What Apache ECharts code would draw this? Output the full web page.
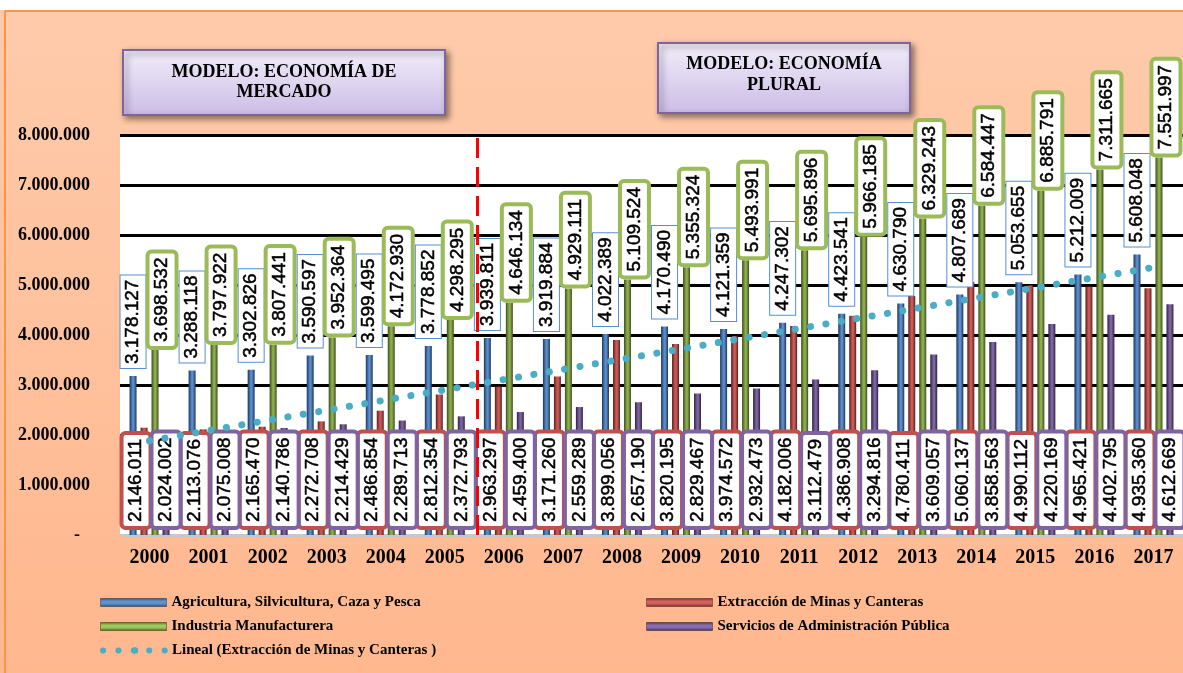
<!DOCTYPE html>
<html>
<head>
<meta charset="utf-8">
<script src="https://cdn.jsdelivr.net/npm/echarts@6/dist/echarts.min.js"></script>
<style>
html,body{margin:0;padding:0;background:#fff;}
#chart{width:1183px;height:673px;}
</style>
</head>
<body>
<div id="chart"></div>
<script>
const years = ['2000','2001','2002','2003','2004','2005','2006','2007','2008','2009','2010','2011','2012','2013','2014','2015','2016','2017'];
const agricultura = [3178127,3288118,3302826,3590597,3599495,3778852,3939811,3919884,4022389,4170490,4121359,4247302,4423541,4630790,4807689,5053655,5212009,5608048];
const extraccion = [2146011,2113076,2165470,2272708,2486854,2812354,2963297,3171260,3899056,3820195,3974572,4182006,4386908,4780411,5060137,4990112,4965421,4935360];
const industria = [3698532,3797922,3807441,3952364,4172930,4298295,4646134,4929111,5109524,5355324,5493991,5695896,5966185,6329243,6584447,6885791,7311665,7551997];
const servicios = [2024002,2075008,2140786,2214429,2289713,2372793,2459400,2559289,2657190,2829467,2932473,3112479,3294816,3609057,3858563,4220169,4402795,4612669];
const yTicks = [0,1000000,2000000,3000000,4000000,5000000,6000000,7000000,8000000];
const seriesNames = ['Agricultura, Silvicultura, Caza y Pesca','Extracción de Minas y Canteras','Industria Manufacturera','Servicios de Administración Pública','Lineal (Extracción de Minas y Canteras )'];

// Linear (least squares) trend of the mining series, as the spreadsheet's "Lineal" trendline
function linearTrend(vals){
  const n = vals.length;
  let sx=0, sy=0, sxx=0, sxy=0;
  vals.forEach((v,i)=>{sx+=i; sy+=v; sxx+=i*i; sxy+=i*v;});
  const b = (n*sxy - sx*sy)/(n*sxx - sx*sx);
  const a = (sy - b*sx)/n;
  return vals.map((v,i)=>a+b*i);
}
const trend = linearTrend(extraccion);

function fmt(v){ return String(Math.round(v)).replace(/\B(?=(\d{3})+(?!\d))/g,'.'); }

function grad(edge, mid){
  return new echarts.graphic.LinearGradient(0,0,1,0,[
    {offset:0,color:edge},{offset:0.45,color:mid},{offset:0.6,color:mid},{offset:1,color:edge}
  ]);
}
function vgrad(edge, mid){
  return new echarts.graphic.LinearGradient(0,0,0,1,[
    {offset:0,color:edge},{offset:0.35,color:mid},{offset:0.6,color:mid},{offset:1,color:edge}
  ]);
}

const labelFont = 'Liberation Sans';
// offset is applied in the rotated label frame: local y maps to screen x
function lbl(pos, dist, border, bw, shiftX){
  return {
    show:true, position:pos, distance:dist, rotate:90, align:'left', verticalAlign:'middle',
    formatter:p=>fmt(p.value), fontFamily:labelFont, fontSize:19, lineHeight:19, color:'#000',
    textBorderColor:'#000', textBorderWidth:0.5,
    backgroundColor:'#fff', borderColor:border, borderWidth:bw, borderRadius: bw>1?2:0,
    padding:[3,4,3,4], offset:[0,shiftX]
  };
}

const chart = echarts.init(document.getElementById('chart'));
const serif = 'Liberation Serif';
function legendAt(name, left, top, color){
  const isLine = name.indexOf('Lineal')===0;
  const l = {data:[name], left:left, top:top, padding:0, itemWidth:66, itemHeight:8, itemGap:8,
    textStyle:{fontFamily:serif, fontWeight:'bold', fontSize:15, color:'#000'}};
  if (isLine) { l.lineStyle = {width:6, type:[0.1,15.3], cap:'round', color:'#4BACC6'}; l.itemWidth = 64; }
  else { l.icon = 'rect'; l.itemStyle = {color:color, borderColor:'rgba(0,0,0,0.35)', borderWidth:1}; }
  return l;
}

const option = {
  animation:false,
  backgroundColor: new echarts.graphic.LinearGradient(0,0,0,1,[{offset:0,color:'#FECBAB'},{offset:1,color:'#FFB78E'}]),
  grid:{left:120, top:135, width:1066, height:400, show:true, backgroundColor:'#ffffff', borderWidth:0, containLabel:false},
  legend:[
    legendAt(seriesNames[0],100,595, vgrad('#2b4f80','#5f93d0')),
    legendAt(seriesNames[1],646,595, vgrad('#7a2826','#d0625f')),
    legendAt(seriesNames[2],100,619, vgrad('#4f6526','#9ec95c')),
    legendAt(seriesNames[3],646,619, vgrad('#3f3157','#8a6db0')),
    legendAt(seriesNames[4],100,643)
  ],
  xAxis:[
    {type:'category', data:years, boundaryGap:true,
     axisLine:{show:false}, axisTick:{show:false},
     axisLabel:{fontFamily:serif, fontWeight:'bold', fontSize:20, color:'#000', margin:13}},
    {type:'value', min:-0.5, max:17.5, show:false}
  ],
  yAxis:{type:'value', min:yTicks[0], max:yTicks[yTicks.length-1], interval:yTicks[1]-yTicks[0],
    axisLine:{show:false}, axisTick:{show:false},
    axisLabel:{fontFamily:serif, fontWeight:'bold', fontSize:18, color:'#000', margin:30,
      formatter:v=> v===0 ? '{z|-}' : fmt(v),
      rich:{z:{fontFamily:serif, fontWeight:'bold', fontSize:18, color:'#000', padding:[0,10,0,0]}}},
    splitLine:{lineStyle:{color:['#c8c8c8','#000','#000','#000','#000','#000','#000','#000','#000'], width:3}}
  },
  series:[
    {name:seriesNames[0], type:'bar', data:agricultura, barWidth:7, barGap:'57%',
     itemStyle:{color:grad('#1c3760','#5a8cc8')},
     label:lbl('top',8,'#558ED5',1,0)},
    {name:seriesNames[1], type:'bar', data:extraccion, barWidth:7, barGap:'57%',
     itemStyle:{color:grad('#5e1f1d','#c85a57')},
     label:lbl('insideBottom',9,'#C0504D',4,-8)},
    {name:seriesNames[2], type:'bar', data:industria, barWidth:7, barGap:'57%',
     itemStyle:{color:grad('#3d4e1e','#8cad4c')},
     label:lbl('top',4,'#9BBB59',4,7)},
    {name:seriesNames[3], type:'bar', data:servicios, barWidth:7, barGap:'57%',
     itemStyle:{color:grad('#2e2342','#7d63a0')},
     label:lbl('insideBottom',9,'#8064A2',4,0)},
    {name:seriesNames[4], type:'line', data:trend, symbol:'none', z:2,
     itemStyle:{color:'#4BACC6'},
     lineStyle:{color:'#4BACC6', width:7, type:[0.1,15.5], cap:'round'}},
    {type:'line', xAxisIndex:1, data:[], silent:true,
     markLine:{silent:true, symbol:'none', label:{show:false},
       lineStyle:{color:'#FF0000', width:3, type:[20,9]},
       data:[{xAxis:5.55}]}}
  ],
  graphic:[
    {type:'rect', left:0, top:0, shape:{width:1183, height:10}, style:{fill:'#ffffff'}, silent:true},
    {type:'line', shape:{x1:5,y1:11,x2:1183,y2:11}, style:{stroke:'#F79646', lineWidth:2}, silent:true},
    {type:'line', shape:{x1:5,y1:11,x2:5,y2:673}, style:{stroke:'#F79646', lineWidth:2}, silent:true},
    {type:'rect', shape:{x:123,y:50,width:322,height:65},
     style:{fill:new echarts.graphic.LinearGradient(0,0,0,1,[{offset:0,color:'#F2EEFA'},{offset:1,color:'#CBBCE6'}]),
       stroke:'#8064A2', lineWidth:2, shadowBlur:6, shadowColor:'rgba(0,0,0,0.45)', shadowOffsetX:3, shadowOffsetY:3}},
    {type:'text', x:284, y:82, style:{text:'MODELO: ECONOMÍA DE\nMERCADO', align:'center', verticalAlign:'middle',
       font:'bold 18px "Liberation Serif"', lineHeight:20, fill:'#000'}},
    {type:'rect', shape:{x:658,y:43,width:252,height:70},
     style:{fill:new echarts.graphic.LinearGradient(0,0,0,1,[{offset:0,color:'#F2EEFA'},{offset:1,color:'#CBBCE6'}]),
       stroke:'#8064A2', lineWidth:2, shadowBlur:6, shadowColor:'rgba(0,0,0,0.45)', shadowOffsetX:3, shadowOffsetY:3}},
    {type:'text', x:784, y:75, style:{text:'MODELO: ECONOMÍA\nPLURAL', align:'center', verticalAlign:'middle',
       font:'bold 18px "Liberation Serif"', lineHeight:21, fill:'#000'}}
  ]
};
chart.setOption(option);
</script>
</body>
</html>
